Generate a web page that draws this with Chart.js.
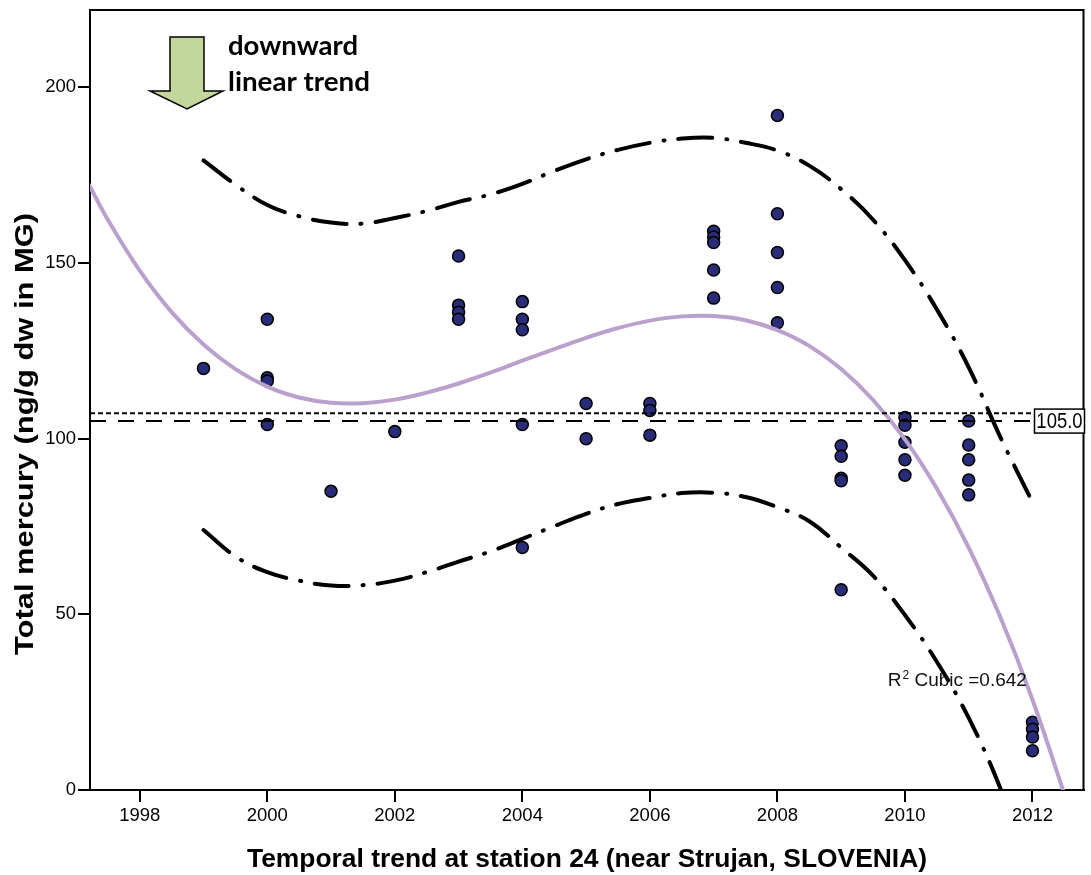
<!DOCTYPE html>
<html>
<head>
<meta charset="utf-8">
<script src="https://cdn.jsdelivr.net/npm/chart.js@4.4.1/dist/chart.umd.min.js"></script>
<style>
  html, body { margin: 0; padding: 0; background: #fff; overflow: hidden; }
  #wrap { width: 1200px; height: 875px; }
  #hgChart { display: block; }
</style>
</head>
<body>
<div id="wrap"><canvas id="hgChart" width="1091" height="875"></canvas></div>
<script>
// observed samples (year, total Hg in ng/g dw)
const obsYears = [
  1999,
  2000, 2000, 2000, 2000,
  2001,
  2002,
  2003, 2003, 2003, 2003,
  2004, 2004, 2004, 2004, 2004,
  2005, 2005,
  2006, 2006, 2006,
  2007, 2007, 2007, 2007, 2007,
  2008, 2008, 2008, 2008, 2008,
  2009, 2009, 2009, 2009, 2009,
  2010, 2010, 2010, 2010, 2010,
  2011, 2011, 2011, 2011, 2011,
  2012, 2012, 2012, 2012
];
const obsMercury = [
  120,
  134, 117.3, 116.4, 104,
  85,
  102,
  152, 138, 136, 134,
  139, 134, 131, 104, 69,
  110, 100,
  110, 108, 101,
  159, 157.4, 155.8, 148, 140,
  192, 164, 153, 143, 133,
  98, 95, 88.7, 88, 57,
  106, 103.8, 99, 94, 89.6,
  105, 98.2, 94, 88.2, 84,
  19.3, 17.3, 15.1, 11.2
];

// cubic fit line
const fitYears = [1997.2, 1997.5, 1998, 1998.5, 1999, 1999.5, 2000, 2000.5, 2001, 2001.5,
  2002, 2002.5, 2003, 2003.5, 2004, 2004.5, 2005, 2005.5, 2006, 2006.5, 2007, 2007.5,
  2008, 2008.5, 2009, 2009.5, 2010, 2010.5, 2011, 2011.5, 2012, 2012.5, 2012.6];
const fitValues = [172.4, 162.3, 147.8, 136.0, 126.8, 119.8, 114.8, 111.7, 110.2, 110.1,
  111.1, 113.1, 115.7, 118.8, 122.2, 125.5, 128.7, 131.5, 133.6, 134.8, 134.9, 133.7,
  130.9, 126.4, 119.8, 111.0, 99.8, 85.8, 69.0, 49.0, 25.7, -1.2, -7.0];

// 95% prediction band
const bandYears = [1999, 1999.5, 2000, 2000.5, 2001, 2001.5, 2002, 2002.5, 2003, 2003.5,
  2004, 2004.5, 2005, 2005.5, 2006, 2006.5, 2007, 2007.5, 2008, 2008.5, 2009, 2009.5,
  2010, 2010.5, 2011, 2011.5, 2012];
const upperBand = [179.2, 172.3, 166.5, 163.3, 161.5, 161.2, 162.8, 164.8, 167.4, 169.5,
  172.5, 176.2, 179.5, 182.2, 184.2, 185.4, 185.6, 184.2, 182.0, 177.7, 171.0, 162.3,
  150.8, 136.8, 120.3, 100.3, 81.9];
const lowerBand = [74.0, 66.5, 62.0, 59.6, 58.2, 58.3, 59.6, 62.0, 65.0, 67.9,
  71.5, 75.1, 78.6, 81.4, 83.1, 84.5, 84.6, 83.4, 80.5, 76.5, 69.0, 61.0,
  49.8, 36.5, 20.5, 0.3, -25];

const refValue = 105.0;
const meanValue = 107.2;
const r2Cubic = '0.642';

const xTicks = [1998, 2000, 2002, 2004, 2006, 2008, 2010, 2012];
const yTicks = [0, 50, 100, 150, 200];
const xMin = 1997.22, xMax = 2012.8;
const yMin = 0, yMax = 222;

const xTitle = 'Temporal trend at station 24 (near Strujan, SLOVENIA)';
const yTitle = 'Total mercury (ng/g dw in MG)';

const toPoints = (xs, ys) => xs.map((v, i) => ({ x: v, y: ys[i] }));

const tickFont = { family: '"Liberation Sans", Arial, sans-serif', size: 18.5 };

// frame, titles, reference label, arrow note, R2 text
const extras = {
  id: 'extras',
  afterDraw(chart) {
    const { ctx, chartArea: area, scales } = chart;
    const xs = scales.x, ys = scales.y;
    ctx.save();

    // top and right sides of the frame
    ctx.strokeStyle = '#000';
    ctx.lineWidth = 2;
    ctx.beginPath();
    ctx.moveTo(area.left, area.top);
    ctx.lineTo(area.right, area.top);
    ctx.lineTo(area.right, area.bottom);
    ctx.stroke();

    // reference line label
    const ry = ys.getPixelForValue(refValue);
    ctx.fillStyle = '#fff';
    ctx.fillRect(area.right - 49, ry - 12, 50, 24);
    ctx.lineWidth = 1.5;
    ctx.strokeRect(area.right - 49, ry - 12, 50, 24);
    ctx.fillStyle = '#000';
    ctx.font = '18.5px "Liberation Sans", Arial, sans-serif';
    ctx.textAlign = 'center';
    ctx.textBaseline = 'middle';
    ctx.save();
    ctx.translate(area.right - 24, ry + 1);
    ctx.scale(1, 1.15);
    ctx.fillText(refValue.toFixed(1), 0, 0);
    ctx.restore();

    // x title
    ctx.font = 'bold 26px "Liberation Sans", Arial, sans-serif';
    ctx.textAlign = 'left';
    ctx.textBaseline = 'alphabetic';
    let w = ctx.measureText(xTitle).width;
    ctx.save();
    ctx.translate(247, 867);
    ctx.scale(680 / w, 1);
    ctx.fillText(xTitle, 0, 0);
    ctx.restore();

    // y title
    ctx.font = 'bold 25px "Liberation Sans", Arial, sans-serif';
    w = ctx.measureText(yTitle).width;
    ctx.save();
    ctx.translate(33, 655);
    ctx.rotate(-Math.PI / 2);
    ctx.scale(442 / w, 1);
    ctx.fillText(yTitle, 0, 0);
    ctx.restore();

    // R2 label
    const rx = xs.getPixelForValue(2009.73);
    const rb = ys.getPixelForValue(29.6);
    ctx.font = '19px "Liberation Sans", Arial, sans-serif';
    ctx.fillStyle = '#111';
    ctx.fillText('R', rx, rb);
    let cx = rx + ctx.measureText('R').width;
    ctx.font = '12px "Liberation Sans", Arial, sans-serif';
    ctx.fillText('2', cx + 1, rb - 7);
    cx += ctx.measureText('2').width + 1;
    ctx.font = '19px "Liberation Sans", Arial, sans-serif';
    ctx.fillText(' Cubic =' + r2Cubic, cx, rb);

    // downward arrow
    ctx.beginPath();
    ctx.moveTo(170, 37);
    ctx.lineTo(204, 37);
    ctx.lineTo(204, 91);
    ctx.lineTo(223, 91);
    ctx.lineTo(187, 109);
    ctx.lineTo(150, 91);
    ctx.lineTo(170, 91);
    ctx.closePath();
    ctx.fillStyle = '#c3d69b';
    ctx.fill();
    ctx.lineWidth = 1.5;
    ctx.strokeStyle = '#000';
    ctx.stroke();

    ctx.fillStyle = '#000';
    ctx.font = 'bold 27px Lato, "Open Sans", sans-serif';
    ctx.textAlign = 'left';
    const noteLines = [['downward', 55, 130], ['linear trend', 90.5, 142]];
    noteLines.forEach(([t, base, target]) => {
      const tw = ctx.measureText(t).width;
      ctx.save();
      ctx.translate(228, base);
      ctx.scale(target / tw, 1);
      ctx.fillText(t, 0, 0);
      ctx.restore();
    });

    ctx.restore();
  }
};

const ctx = document.getElementById('hgChart').getContext('2d');
const hgChart = new Chart(ctx, {
  type: 'scatter',
  data: {
    datasets: [
      {
        label: 'Observed',
        data: toPoints(obsYears, obsMercury),
        backgroundColor: '#292c78',
        borderColor: '#000',
        borderWidth: 1.5,
        pointRadius: 6,
        order: 10
      },
      {
        label: 'Cubic fit',
        data: toPoints(fitYears, fitValues),
        showLine: true,
        pointRadius: 0,
        borderColor: '#b9a0cd',
        borderWidth: 4,
        tension: 0.4,
        order: 3
      },
      {
        label: 'Upper 95%',
        data: toPoints(bandYears, upperBand),
        showLine: true,
        pointRadius: 0,
        borderColor: '#000',
        borderWidth: 4,
        borderDash: [34, 14, 1, 14],
        borderCapStyle: 'round',
        tension: 0.4,
        order: 2
      },
      {
        label: 'Lower 95%',
        data: toPoints(bandYears, lowerBand),
        showLine: true,
        pointRadius: 0,
        borderColor: '#000',
        borderWidth: 4,
        borderDash: [34, 14, 1, 14],
        borderCapStyle: 'round',
        tension: 0.4,
        order: 2
      },
      {
        label: 'Mean',
        data: toPoints([xMin, xMax], [meanValue, meanValue]),
        showLine: true,
        pointRadius: 0,
        borderColor: '#000',
        borderWidth: 2,
        borderDash: [5, 3],
        order: 1
      },
      {
        label: 'Reference',
        data: toPoints([xMin, xMax], [refValue, refValue]),
        showLine: true,
        pointRadius: 0,
        borderColor: '#000',
        borderWidth: 2,
        borderDash: [16, 12],
        order: 1
      }
    ]
  },
  options: {
    responsive: false,
    animation: false,
    layout: { padding: { top: 10, right: 0, left: 0, bottom: 0 } },
    plugins: {
      legend: { display: false },
      tooltip: { enabled: false }
    },
    scales: {
      x: {
        type: 'linear',
        min: xMin,
        max: xMax,
        afterBuildTicks: (scale) => { scale.ticks = xTicks.map(v => ({ value: v })); },
        afterFit: (scale) => { scale.height = 85; scale.paddingLeft = 0; scale.paddingRight = 0; },
        border: { display: true, color: '#000', width: 2 },
        grid: { drawOnChartArea: false, drawTicks: true, tickLength: 12, color: '#000', lineWidth: 2 },
        ticks: { font: tickFont, color: '#000', padding: 3, maxRotation: 0, autoSkip: false,
                 callback: (v) => String(v) }
      },
      y: {
        min: yMin,
        max: yMax,
        afterBuildTicks: (scale) => { scale.ticks = yTicks.map(v => ({ value: v })); },
        afterFit: (scale) => { scale.width = 90; scale.paddingTop = 0; scale.paddingBottom = 0; },
        border: { display: true, color: '#000', width: 2 },
        grid: { drawOnChartArea: false, drawTicks: true, tickLength: 12, color: '#000', lineWidth: 2 },
        ticks: { font: tickFont, color: '#000', padding: 2 }
      }
    }
  },
  plugins: [extras]
});

// the layout keeps a few px on the right; widen the canvas past the window
// edge so the plot frame ends at x = 1087 like the original
for (let i = 0; i < 3; i++) {
  const diff = 1087 - hgChart.chartArea.right;
  if (Math.abs(diff) > 0.5) hgChart.resize(Math.round(hgChart.width + diff), 875);
}
</script>
</body>
</html>
